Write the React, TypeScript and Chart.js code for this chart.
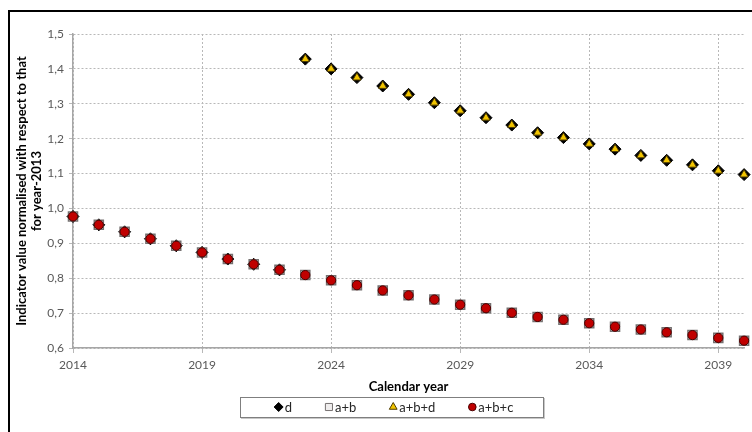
import React, { useEffect, useRef } from 'react';
import { Chart, registerables } from 'chart.js';
import { drawPoint } from 'chart.js/helpers';

Chart.register(...registerables);

const YEARS = [
  2014, 2015, 2016, 2017, 2018, 2019, 2020, 2021, 2022, 2023, 2024, 2025, 2026, 2027,
  2028, 2029, 2030, 2031, 2032, 2033, 2034, 2035, 2036, 2037, 2038, 2039, 2040,
];

const D_VALUES = [
  0.977, 0.953, 0.933, 0.913, 0.893, 0.874, 0.855, 0.84, 0.824,
  1.428, 1.4, 1.375, 1.351, 1.327, 1.303, 1.28, 1.26, 1.239, 1.217,
  1.203, 1.185, 1.17, 1.152, 1.138, 1.125, 1.108, 1.097,
];

const AB_VALUES = [
  0.977, 0.953, 0.933, 0.913, 0.893, 0.874, 0.855, 0.84, 0.824, 0.809, 0.794, 0.78, 0.765,
  0.751, 0.739, 0.724, 0.714, 0.701, 0.689, 0.681, 0.671, 0.661, 0.653, 0.645, 0.637, 0.629, 0.621,
];

const ABD_VALUES = [
  0.977, 0.953, 0.933, 0.913, 0.893, 0.874, 0.855, 0.84, 0.824,
  1.428, 1.4, 1.375, 1.351, 1.327, 1.303, 1.28, 1.26, 1.239, 1.217,
  1.203, 1.185, 1.17, 1.152, 1.138, 1.125, 1.108, 1.097,
];

const ABC_VALUES = [
  0.977, 0.953, 0.933, 0.913, 0.893, 0.874, 0.855, 0.84, 0.824, 0.809, 0.794, 0.78, 0.765,
  0.751, 0.739, 0.724, 0.714, 0.701, 0.689, 0.681, 0.671, 0.661, 0.653, 0.645, 0.637, 0.629, 0.621,
];

const SERIES_LABELS = ['d', 'a+b', 'a+b+d', 'a+b+c'];
const X_TICKS = [2014, 2019, 2024, 2029, 2034, 2039];
const Y_TICKS = [0.6, 0.7, 0.8, 0.9, 1.0, 1.1, 1.2, 1.3, 1.4, 1.5];
const X_TITLE = 'Calendar year';
const Y_TITLE = ['Indicator value normalised with respect to that', 'for year-2013'];

const FONT = 'Lato, "Open Sans", sans-serif';
const LEGEND_RADII = [4.5, 5, 4.5, 3.8];

const legendPlugin = {
  id: 'boxLegend',
  afterDraw(chart: any) {
    const ctx = chart.ctx;
    const ds = chart.data.datasets;
    ctx.save();
    ctx.font = `13px ${FONT}`;
    const widths = ds.map((d: any) => 10 + ctx.measureText(d.label).width);
    const gap = 33;
    const total = widths.reduce((a: number, b: number) => a + b, 0) + gap * (ds.length - 1);
    const cx = 394;
    const cy = 407;
    let x = cx - total / 2;
    const boxL = Math.round(x - 35) + 0.5;
    const boxR = Math.round(x + total + 30) + 0.5;
    ctx.strokeStyle = '#c8c8c8';
    ctx.lineWidth = 1;
    ctx.strokeRect(boxL + 1, 398.5, boxR - boxL, 20);
    ctx.fillStyle = '#ffffff';
    ctx.fillRect(boxL, 397.5, boxR - boxL, 20);
    ctx.strokeStyle = '#7f7f7f';
    ctx.strokeRect(boxL, 397.5, boxR - boxL, 20);
    ds.forEach((d: any, i: number) => {
      ctx.fillStyle = d.backgroundColor;
      ctx.strokeStyle = d.borderColor;
      ctx.lineWidth = 1;
      drawPoint(ctx, { pointStyle: d.pointStyle, rotation: 0, radius: LEGEND_RADII[i], borderWidth: 1 } as any, x + 4, cy);
      ctx.fillStyle = '#262626';
      ctx.textBaseline = 'middle';
      ctx.textAlign = 'left';
      ctx.fillText(d.label, x + 10, cy + 0.5);
      x += widths[i] + gap;
    });
    ctx.restore();
  },
};

export default function App() {
  const ref = useRef<HTMLCanvasElement | null>(null);

  useEffect(() => {
    if (!ref.current) return;
    const mk = (vals: number[]) => YEARS.map((x, i) => ({ x, y: vals[i] }));
    const chart = new Chart(ref.current, {
      type: 'scatter',
      data: {
        datasets: [
          {
            label: SERIES_LABELS[0],
            data: mk(D_VALUES),
            pointStyle: 'rectRot',
            pointRadius: 6,
            backgroundColor: '#000000',
            borderColor: '#000000',
            borderWidth: 1,
            order: 4,
            clip: false,
          },
          {
            label: SERIES_LABELS[1],
            data: mk(AB_VALUES),
            pointStyle: 'rect',
            pointRadius: 6.4,
            backgroundColor: '#efeded',
            borderColor: '#767171',
            borderWidth: 1.5,
            order: 3,
            clip: false,
          },
          {
            label: SERIES_LABELS[2],
            data: mk(ABD_VALUES),
            pointStyle: 'triangle',
            pointRadius: 4.8,
            backgroundColor: '#f2c500',
            borderColor: '#4d3b00',
            borderWidth: 1,
            order: 2,
            clip: false,
          },
          {
            label: SERIES_LABELS[3],
            data: mk(ABC_VALUES),
            pointStyle: 'circle',
            pointRadius: 4.6,
            backgroundColor: '#c00000',
            borderColor: '#4a0000',
            borderWidth: 1,
            order: 1,
            clip: false,
          },
        ] as any,
      },
      options: {
        responsive: false,
        animation: false,
        devicePixelRatio: 1,
        layout: { padding: { left: 0, right: 7, top: 34, bottom: 36 } },
        plugins: {
          legend: { display: false },
          tooltip: { enabled: false },
        },
        scales: {
          x: {
            type: 'linear',
            min: 2014,
            max: 2040,
            afterBuildTicks: (s: any) => {
              s.ticks = X_TICKS.map((v) => ({ value: v }));
            },
            afterFit: (s: any) => {
              s.height = 48;
            },
            grid: { color: '#b8b8b8', lineWidth: 1, tickLength: 5 },
            border: { display: true, color: '#a6a6a6', width: 1.5, dash: [2, 2] },
            ticks: {
              color: '#595959',
              font: { family: FONT, size: 12 },
              padding: 5,
              autoSkip: false,
              maxRotation: 0,
              callback: (v: any) => String(v),
            },
            title: {
              display: true,
              text: X_TITLE,
              color: '#000000',
              font: { family: FONT, size: 13, weight: 'bold' },
              padding: { top: 0, bottom: 1 },
            },
          },
          y: {
            type: 'linear',
            min: 0.6,
            max: 1.5,
            afterBuildTicks: (s: any) => {
              s.ticks = Y_TICKS.map((v) => ({ value: v }));
            },
            afterFit: (s: any) => {
              s.width = 73;
            },
            grid: { color: '#b8b8b8', lineWidth: 1, tickLength: 4 },
            border: { display: true, color: '#a6a6a6', width: 1.5, dash: [2, 2] },
            ticks: {
              color: '#595959',
              font: { family: FONT, size: 12 },
              padding: 5,
              callback: (v: any) => Number(v).toFixed(1).replace('.', ','),
            },
            title: {
              display: true,
              text: Y_TITLE,
              color: '#000000',
              font: { family: FONT, size: 13, weight: 'bold', lineHeight: 1.1 },
              padding: { top: 15, bottom: 0 },
            },
          },
        },
      } as any,
      plugins: [legendPlugin],
    });
    return () => chart.destroy();
  }, []);

  return (
    <div>
      <div
        style={{
          position: 'fixed',
          left: 8,
          top: 10,
          width: 800,
          height: 500,
          border: '2.5px solid #000',
          background: '#fff',
          boxSizing: 'border-box',
        }}
      />
      <canvas
        ref={ref}
        width={752}
        height={432}
        style={{ position: 'fixed', left: 0, top: 0, width: 752, height: 432 }}
      />
    </div>
  );
}
